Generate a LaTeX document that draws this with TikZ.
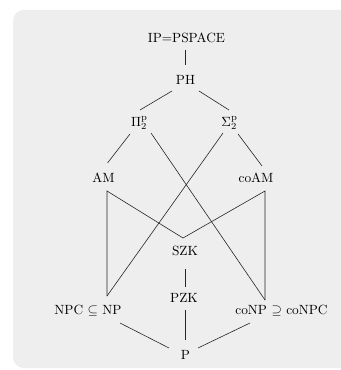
\documentclass[tikz,border=0pt]{standalone}
\usetikzlibrary{calc}
\definecolor{panelgray}{RGB}{238,238,238}
\begin{document}
\begin{tikzpicture}[x=0.75pt,y=-0.75pt,
    cls/.style={inner sep=2pt},
    link/.style={line width=0.45pt,black!85}]
    \clip (0,0) rectangle (341,370);
    \fill[panelgray,rounded corners=8pt] (13,10) rectangle (380,368);

    \node[cls] (ip) at (186.5,38) {IP=PSPACE};
    \node[cls] (ph) at (185.5,80) {PH};
    \node[cls] (pi) at (139.5,123) {$\Pi_2^{\mathrm{p}}$};
    \node[cls] (sg) at (229.5,123) {$\Sigma_2^{\mathrm{p}}$};
    \node[cls] (am) at (103.5,178) {AM};
    \node[cls] (coam) at (256,178) {coAM};
    \node[cls] (szk) at (185,251) {SZK};
    \node[cls] (pzk) at (184,298) {PZK};
    \node[cls] (np) at (88,311) {NPC $\subseteq$ NP};
    \node[cls] (conp) at (281.5,311) {coNP $\supseteq$ coNPC};
    \node[cls] (p) at (185.5,355) {P};

    \draw[link] ($(ip)+(-1.5,12)$) -- ($(ph)+(-0.5,-15)$);
    \draw[link] ($(ph)+(-13.5,11)$) -- ($(pi)+(0.5,-13)$);
    \draw[link] ($(ph)+(13.5,11)$) -- ($(sg)+(-0.5,-13)$);
    \draw[link] ($(pi)+(-9.5,11)$) -- ($(am)+(4,-15)$);
    \draw[link] ($(sg)+(8.5,11)$) -- ($(coam)+(6,-12)$);
    \draw[link] ($(pi)+(11.5,10)$) -- ($(conp)+(-16.5,-11)$);
    \draw[link] ($(sg)+(-6.5,10)$) -- ($(np)+(19,-15)$);
    % AM and coAM down to the NP side, the coNP side and SZK
    \draw[link] ($(np)+(19,-15)$) -- ($(am)+(3.5,13)$) -- ($(szk)+(-2,-13)$)
        -- ($(coam)+(9,13)$) -- ($(conp)+(-16.5,-11)$);
    \draw[link] ($(szk)+(0,18)$) -- ($(pzk)+(1,-11)$);
    \draw[link] ($(pzk)+(1,12)$) -- ($(p)+(-0.5,-15)$);
    \draw[link] ($(np)+(32,12)$) -- ($(p)+(-16.5,-7)$);
    \draw[link] ($(conp)+(-31.5,12)$) -- ($(p)+(12.5,-7)$);
\end{tikzpicture}
\end{document}
